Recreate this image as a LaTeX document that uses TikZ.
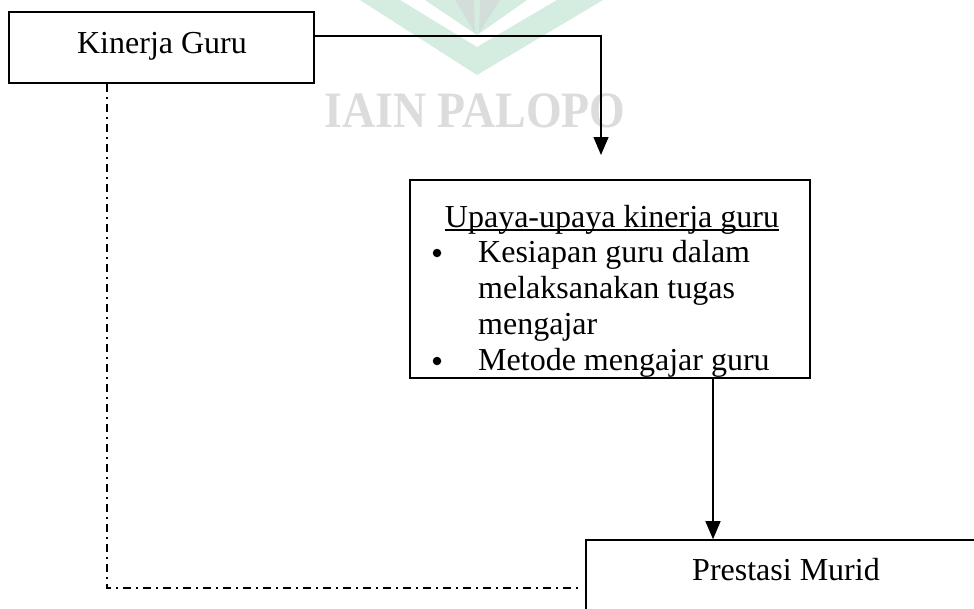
\documentclass[tikz,border=0pt]{standalone}
\usepackage{fontspec}
\setmainfont{Liberation Serif}
\usetikzlibrary{arrows.meta}
\definecolor{wmgreen}{HTML}{D4EDE0}
\definecolor{wmgray}{HTML}{D3DEDA}
\definecolor{wmtext}{HTML}{DCDCDC}
\begin{document}
\begin{tikzpicture}[x=1pt,y=-1pt,
  box/.style={draw=black,line width=1.6pt,inner sep=0pt},
  txt/.style={inner sep=0pt,font=\fontsize{32pt}{36pt}\selectfont},
  bul/.style={circle,fill=black,inner sep=0pt,minimum size=8.5pt},
  conn/.style={line width=1.3pt,-{Triangle[width=15pt,length=18pt]}},
  dashdot/.style={line width=1.3pt,dash pattern=on 8pt off 5pt on 2pt off 5pt}]
\clip (0,0) rectangle (974,608);
\fill[white] (0,0) rectangle (974,608);
% watermark
\fill[wmgreen] (360,0) -- (477,75) -- (603,0) -- (557,0) -- (477,47) -- (400,0) -- cycle;
\fill[wmgreen] (425,0) -- (527,0) -- (477,35) -- cycle;
\fill[wmgray] (455,0) -- (474,0) -- (475,33) -- cycle;
\fill[wmgray] (480,0) -- (500,0) -- (479,33) -- cycle;
\node[inner sep=0pt,anchor=base,text=wmtext,xscale=0.9,font=\fontsize{51pt}{51pt}\selectfont\bfseries] (wm) at (475,127) {IAIN PALOPO};
% boxes
\node[box,minimum width=305pt,minimum height=71pt] (kg) at (161.5,47.5) {};
\node[txt,anchor=base] (kgt) at (162,53) {Kinerja Guru};
\node[box,minimum width=400pt,minimum height=198pt] (up) at (610,279) {};
\node[txt,anchor=base] (ut) at (612,227) {Upaya-upaya kinerja guru};
\draw[line width=1.1pt] ([yshift=-3pt]ut.base west) -- ([yshift=-3pt]ut.base east);
\node[bul] (b1) at (437,253) {};
\node[bul] (b2) at (437,361) {};
\node[txt,anchor=base west] (l1) at (478,262) {Kesiapan guru dalam};
\node[txt,anchor=base west] (l2) at (478,298) {melaksanakan tugas};
\node[txt,anchor=base west] (l3) at (478,334) {mengajar};
\node[txt,anchor=base west] (l4) at (478,370) {Metode mengajar guru};
\node[box,minimum width=400pt,minimum height=100pt] (pm) at (786,590) {};
\node[txt,anchor=base] (pmt) at (786,580) {Prestasi Murid};
% connectors
\coordinate (kgout) at (kg.east |- 0,36);
\coordinate (a1end) at (601,155);
\draw[conn] (kgout) -| (a1end);
\draw[conn] (up.south -| 713,0) -- (pm.north -| 713,0);
\coordinate (dd) at (kg.south -| 107,0);
\draw[dashdot] (dd) |- ([xshift=-3pt]pm.west |- 0,588);
\end{tikzpicture}
\end{document}
